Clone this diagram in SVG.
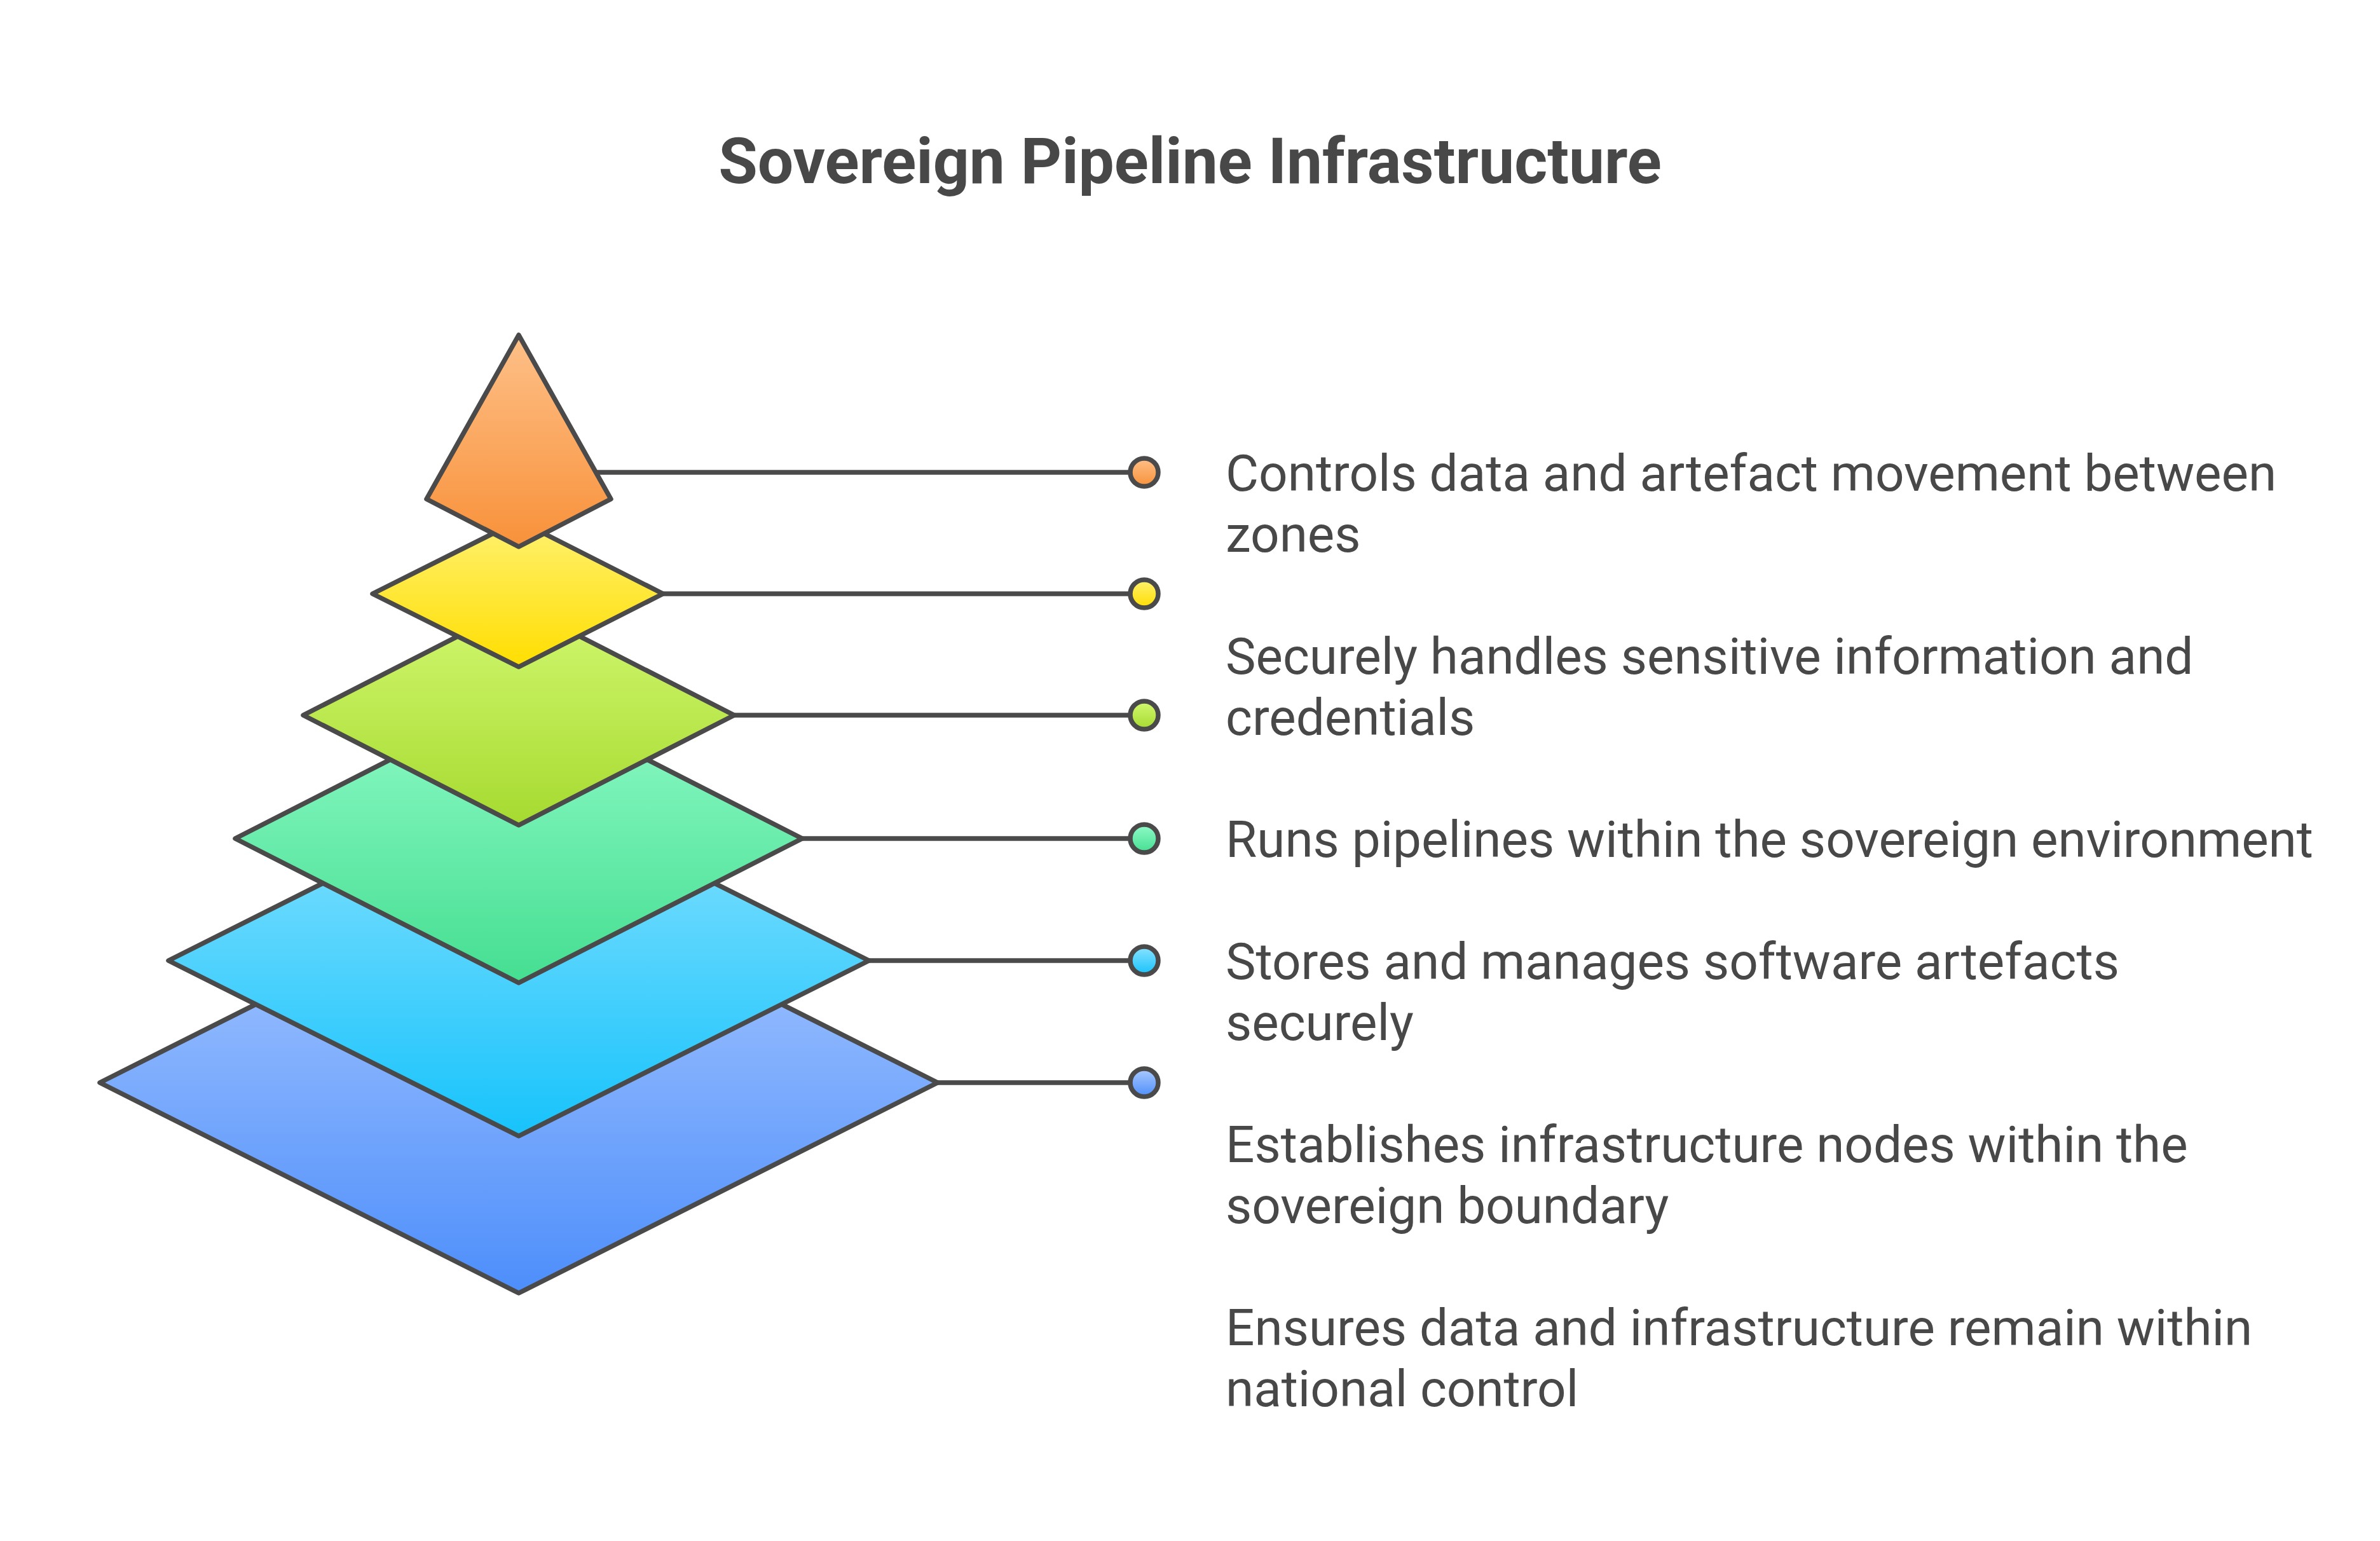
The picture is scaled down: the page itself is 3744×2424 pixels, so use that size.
<svg xmlns="http://www.w3.org/2000/svg" width="3744" height="2424" viewBox="0 0 3744 2424">
<defs>
<linearGradient id="gOrange" x1="0" y1="0" x2="0" y2="1"><stop offset="0" stop-color="#FEC088"/><stop offset="1" stop-color="#F8913A"/></linearGradient>
<linearGradient id="gYellow" x1="0" y1="0" x2="0" y2="1"><stop offset="0" stop-color="#FFF170"/><stop offset="1" stop-color="#FFDE00"/></linearGradient>
<linearGradient id="gLime" x1="0" y1="0" x2="0" y2="1"><stop offset="0" stop-color="#D2F870"/><stop offset="1" stop-color="#A6DA30"/></linearGradient>
<linearGradient id="gGreen" x1="0" y1="0" x2="0" y2="1"><stop offset="0" stop-color="#90FBC8"/><stop offset="1" stop-color="#45DE91"/></linearGradient>
<linearGradient id="gCyan" x1="0" y1="0" x2="0" y2="1"><stop offset="0" stop-color="#8AE2FF"/><stop offset="1" stop-color="#17C3FB"/></linearGradient>
<linearGradient id="gBlue" x1="0" y1="0" x2="0" y2="1"><stop offset="0" stop-color="#ACCAFF"/><stop offset="1" stop-color="#4D8EFB"/></linearGradient>
</defs>
<style>
.shape{stroke:#4A4A4A;stroke-width:7.5;stroke-linejoin:round}
.conn{stroke:#4A4A4A;stroke-width:7.5;fill:none}
.dot{stroke:#4A4A4A;stroke-width:7.5}
.lbl{font-family:Roboto,"Liberation Sans",sans-serif;font-size:80px;fill:#484848}
.title{font-family:Roboto,"Liberation Sans",sans-serif;font-size:100px;font-weight:bold;fill:#484848}
</style>
<rect width="3744" height="2424" fill="#FFFFFF"/>
<text class="title" x="1872" y="288" text-anchor="middle">Sovereign Pipeline Infrastructure</text>
<g id="connectors">
<line class="conn" x1="937" y1="743" x2="1778" y2="743"/>
<line class="conn" x1="1043" y1="934" x2="1778" y2="934"/>
<line class="conn" x1="1155" y1="1125" x2="1778" y2="1125"/>
<line class="conn" x1="1262" y1="1319" x2="1778" y2="1319"/>
<line class="conn" x1="1367" y1="1511" x2="1778" y2="1511"/>
<line class="conn" x1="1475" y1="1703" x2="1778" y2="1703"/>
</g>
<g id="layer-blue">
<polygon class="shape" fill="url(#gBlue)" points="816,1372 1475,1703 816,2034 157,1703"/>
<circle class="dot" cx="1800" cy="1703" r="22" fill="url(#gBlue)"/>
<text class="lbl" x="1928" y="2116">Ensures data and infrastructure remain within</text>
<text class="lbl" x="1928" y="2212">national control</text>
</g>
<g id="layer-cyan">
<polygon class="shape" fill="url(#gCyan)" points="816,1235 1367,1511 816,1787 265,1511"/>
<circle class="dot" cx="1800" cy="1511" r="22" fill="url(#gCyan)"/>
<text class="lbl" x="1928" y="1828">Establishes infrastructure nodes within the</text>
<text class="lbl" x="1928" y="1924">sovereign boundary</text>
</g>
<g id="layer-green">
<polygon class="shape" fill="url(#gGreen)" points="816,1092 1262,1319 816,1546 370,1319"/>
<circle class="dot" cx="1800" cy="1319" r="22" fill="url(#gGreen)"/>
<text class="lbl" x="1928" y="1540">Stores and manages software artefacts</text>
<text class="lbl" x="1928" y="1636">securely</text>
</g>
<g id="layer-lime">
<polygon class="shape" fill="url(#gLime)" points="816,952 1155,1125 816,1298 477,1125"/>
<circle class="dot" cx="1800" cy="1125" r="22" fill="url(#gLime)"/>
<text class="lbl" x="1928" y="1348">Runs pipelines within the sovereign environment</text>
</g>
<g id="layer-yellow">
<polygon class="shape" fill="url(#gYellow)" points="816,819 1043,934 816,1049 586,934"/>
<circle class="dot" cx="1800" cy="934" r="22" fill="url(#gYellow)"/>
<text class="lbl" x="1928" y="1060">Securely handles sensitive information and</text>
<text class="lbl" x="1928" y="1156">credentials</text>
</g>
<g id="layer-orange">
<polygon class="shape" fill="url(#gOrange)" points="816,527 961,785 816,860 671,785"/>
<circle class="dot" cx="1800" cy="743" r="22" fill="url(#gOrange)"/>
<text class="lbl" x="1928" y="772">Controls data and artefact movement between</text>
<text class="lbl" x="1928" y="868">zones</text>
</g>
</svg>
